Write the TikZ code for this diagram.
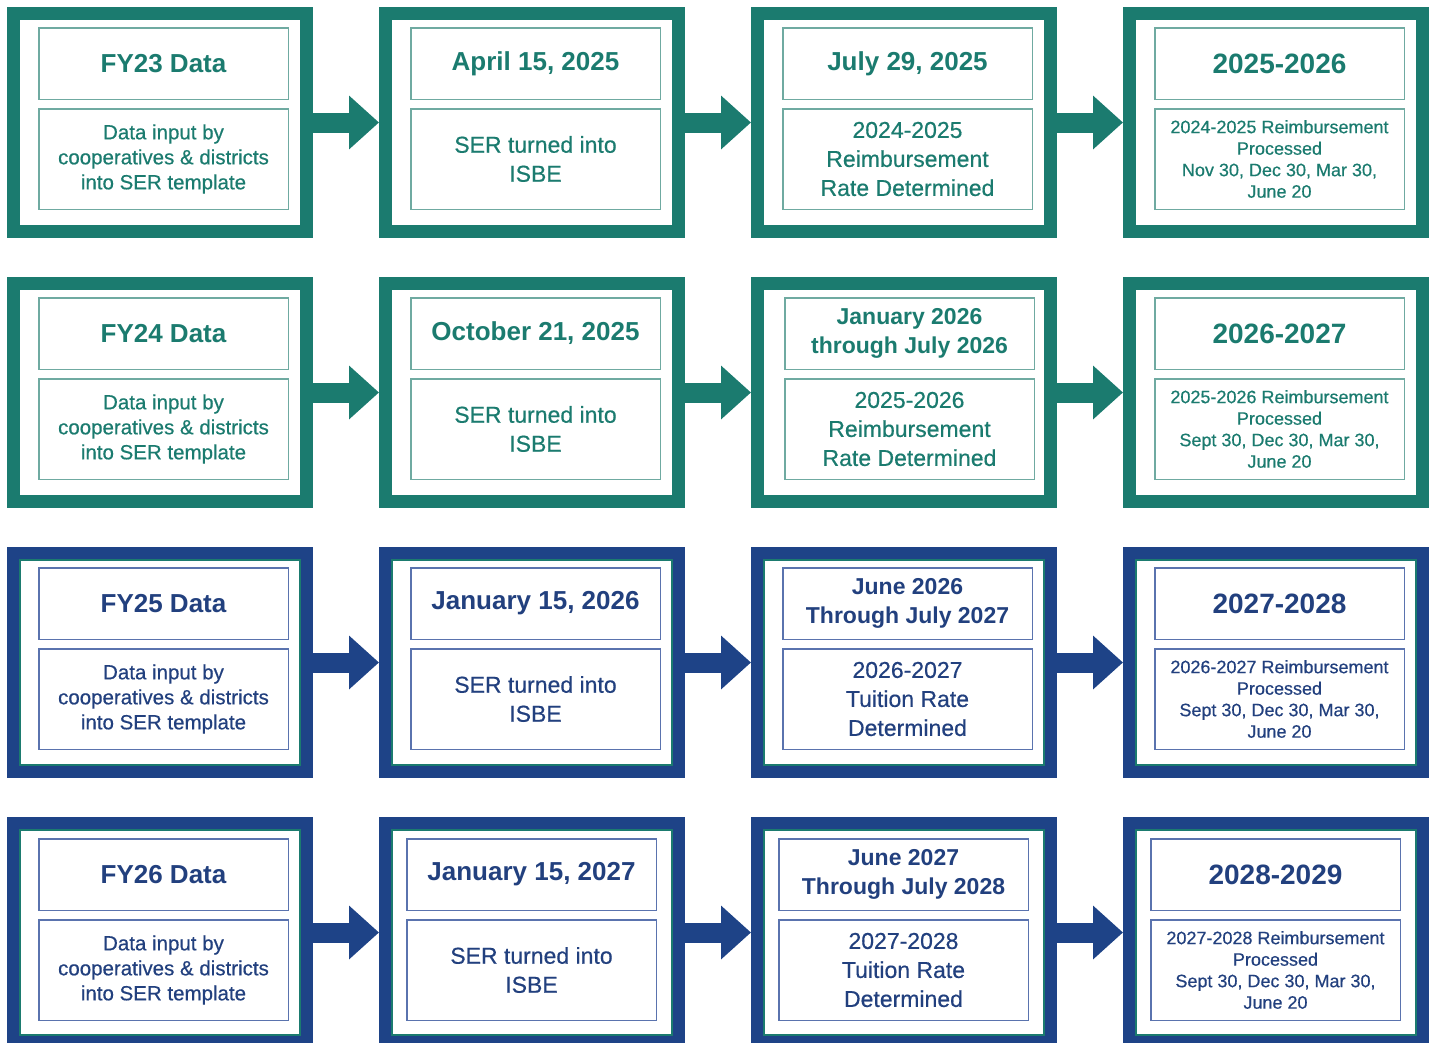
\documentclass[tikz,border=0pt]{standalone}
\usepackage{fontspec}
\setmainfont{Liberation Sans}
\newfontfamily\medfont[FakeBold=0.5]{Liberation Sans}
\usetikzlibrary{arrows.meta,positioning}
\definecolor{teal_dark}{HTML}{1B7B6F}
\definecolor{teal_light}{HTML}{6FAAA1}
\definecolor{blue_dark}{HTML}{1E4387}
\definecolor{blue_light}{HTML}{5A73AE}
\definecolor{blue_text}{HTML}{22407E}

\begin{document}
\begin{tikzpicture}[x=1pt,y=1pt,
    frame/.style={draw, line width=13pt, minimum width=293pt, minimum height=218pt, inner sep=0pt},
    head/.style={draw, line width=1.5pt, minimum width=249.5pt, minimum height=71.5pt, inner sep=0pt, align=center, font=\bfseries\fontsize{26}{29}\selectfont},
    info/.style={draw, line width=1.5pt, minimum width=249.5pt, minimum height=100.5pt, inner sep=0pt, align=center, font=\medfont\fontsize{20.5}{25}\selectfont},
    ser/.style={font=\medfont\fontsize{23}{29}\selectfont},
    small/.style={font=\medfont\fontsize{18}{21.5}\selectfont},
    year/.style={font=\bfseries\fontsize{28}{31}\selectfont},
    span/.style={font=\bfseries\fontsize{23}{29}\selectfont},
    tframe/.style={frame, draw=teal_dark},
    bframe/.style={frame, draw=blue_dark},
    thead/.style={head, draw=teal_light, text=teal_dark},
    bhead/.style={head, draw=blue_light, text=blue_text},
    tinfo/.style={info, draw=teal_light, text=teal_dark},
    binfo/.style={info, draw=blue_light, text=blue_text},
    tarrow/.style={teal_dark, line width=20pt, -{Triangle[width=52pt,length=30pt]}},
    barrow/.style={blue_dark, line width=20pt, -{Triangle[width=52pt,length=30pt]}}]
    \useasboundingbox (0,0) rectangle (1433,-1042);

    % Frames
    \foreach \r/\y in {1/-122.5,2/-392.5,3/-662.5,4/-932.5}
      \foreach \c/\x in {1/160,2/532,3/904,4/1276}{
        \ifnum\r<3
          \node[tframe] (f\r\c) at (\x,\y) {};
        \else
          \node[bframe] (f\r\c) at (\x,\y) {};
          \draw[teal_dark, line width=1.5pt] ([shift={(13,-13)}]f\r\c.north west) rectangle ([shift={(-13,13)}]f\r\c.south east);
        \fi
      }

    % Row 1
    \node[thead, below right=20pt and 31pt of f11.north west] (h11) {FY23 Data};
    \node[tinfo, below=8pt of h11] (i11) {Data input by\\cooperatives \& districts\\into SER template};
    \node[thead, below right=20pt and 31pt of f12.north west] (h12) {April 15, 2025};
    \node[tinfo, ser, below=8pt of h12] (i12) {SER turned into\\ISBE};
    \node[thead, below right=20pt and 31pt of f13.north west] (h13) {July 29, 2025};
    \node[tinfo, ser, below=8pt of h13] (i13) {2024-2025\\Reimbursement\\Rate Determined};
    \node[thead, year, below right=20pt and 31pt of f14.north west] (h14) {2025-2026};
    \node[tinfo, small, below=8pt of h14] (i14) {2024-2025 Reimbursement\\Processed\\Nov 30, Dec 30, Mar 30,\\June 20};

    % Row 2
    \node[thead, below right=20pt and 31pt of f21.north west] (h21) {FY24 Data};
    \node[tinfo, below=8pt of h21] (i21) {Data input by\\cooperatives \& districts\\into SER template};
    \node[thead, below right=20pt and 31pt of f22.north west] (h22) {October 21, 2025};
    \node[tinfo, ser, below=8pt of h22] (i22) {SER turned into\\ISBE};
    \node[thead, span, below right=20pt and 33pt of f23.north west] (h23) {January 2026\\through July 2026};
    \node[tinfo, ser, below=8pt of h23] (i23) {2025-2026\\Reimbursement\\Rate Determined};
    \node[thead, year, below right=20pt and 31pt of f24.north west] (h24) {2026-2027};
    \node[tinfo, small, below=8pt of h24] (i24) {2025-2026 Reimbursement\\Processed\\Sept 30, Dec 30, Mar 30,\\June 20};

    % Row 3
    \node[bhead, below right=20pt and 31pt of f31.north west] (h31) {FY25 Data};
    \node[binfo, below=8pt of h31] (i31) {Data input by\\cooperatives \& districts\\into SER template};
    \node[bhead, below right=20pt and 31pt of f32.north west] (h32) {January 15, 2026};
    \node[binfo, ser, below=8pt of h32] (i32) {SER turned into\\ISBE};
    \node[bhead, span, below right=20pt and 31pt of f33.north west] (h33) {June 2026\\Through July 2027};
    \node[binfo, ser, below=8pt of h33] (i33) {2026-2027\\Tuition Rate\\Determined};
    \node[bhead, year, below right=20pt and 31pt of f34.north west] (h34) {2027-2028};
    \node[binfo, small, below=8pt of h34] (i34) {2026-2027 Reimbursement\\Processed\\Sept 30, Dec 30, Mar 30,\\June 20};

    % Row 4
    \node[bhead, below right=21pt and 31pt of f41.north west] (h41) {FY26 Data};
    \node[binfo, below=8pt of h41] (i41) {Data input by\\cooperatives \& districts\\into SER template};
    \node[bhead, below right=21pt and 27pt of f42.north west] (h42) {January 15, 2027};
    \node[binfo, ser, below=8pt of h42] (i42) {SER turned into\\ISBE};
    \node[bhead, span, below right=21pt and 27pt of f43.north west] (h43) {June 2027\\Through July 2028};
    \node[binfo, ser, below=8pt of h43] (i43) {2027-2028\\Tuition Rate\\Determined};
    \node[bhead, year, below right=21pt and 27pt of f44.north west] (h44) {2028-2029};
    \node[binfo, small, below=8pt of h44] (i44) {2027-2028 Reimbursement\\Processed\\Sept 30, Dec 30, Mar 30,\\June 20};

    % Arrows
    \foreach \r in {1,2}{
      \draw[tarrow] (f\r1.east) -- (f\r2.west);
      \draw[tarrow] (f\r2.east) -- (f\r3.west);
      \draw[tarrow] (f\r3.east) -- (f\r4.west);
    }
    \foreach \r in {3,4}{
      \draw[barrow] (f\r1.east) -- (f\r2.west);
      \draw[barrow] (f\r2.east) -- (f\r3.west);
      \draw[barrow] (f\r3.east) -- (f\r4.west);
    }
\end{tikzpicture}
\end{document}
